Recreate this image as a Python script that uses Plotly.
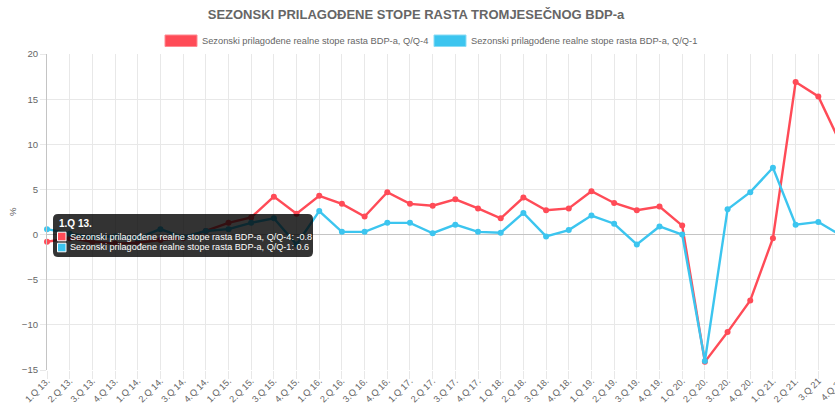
import plotly.graph_objects as go

quarters = ["1.Q 13.", "2.Q 13.", "3.Q 13.", "4.Q 13.",
            "1.Q 14.", "2.Q 14.", "3.Q 14.", "4.Q 14.",
            "1.Q 15.", "2.Q 15.", "3.Q 15.", "4.Q 15.",
            "1.Q 16.", "2.Q 16.", "3.Q 16.", "4.Q 16.",
            "1.Q 17.", "2.Q 17.", "3.Q 17.", "4.Q 17.",
            "1.Q 18.", "2.Q 18.", "3.Q 18.", "4.Q 18.",
            "1.Q 19.", "2.Q 19.", "3.Q 19.", "4.Q 19.",
            "1.Q 20.", "2.Q 20.", "3.Q 20.", "4.Q 20.",
            "1.Q 21.", "2.Q 21.", "3.Q 21", "4.Q 21"]

yoy_q4 = [-0.8, -0.4, -0.8, -1.0, -0.9, -0.6, -0.4, 0.4, 1.3, 1.9, 4.2, 2.3,
          4.3, 3.4, 2.0, 4.7, 3.4, 3.2, 3.9, 2.9, 1.8, 4.1, 2.7, 2.9,
          4.8, 3.5, 2.7, 3.1, 1.0, -14.1, -10.8, -7.3, -0.4, 16.9, 15.3, 10.0]

qoq_q1 = [0.6, 0.1, -0.3, -0.2, -0.4, 0.6, -0.3, 0.4, 0.6, 1.3, 1.8, -1.1,
          2.6, 0.3, 0.3, 1.3, 1.3, 0.15, 1.1, 0.3, 0.2, 2.4, -0.2, 0.5,
          2.1, 1.2, -1.1, 0.9, 0.0, -14.0, 2.8, 4.7, 7.4, 1.1, 1.4, -0.1]

name_q4 = "Sezonski prilagođene realne stope rasta BDP-a, Q/Q-4"
name_q1 = "Sezonski prilagođene realne stope rasta BDP-a, Q/Q-1"
title_text = "SEZONSKI PRILAGOĐENE STOPE RASTA TROMJESEČNOG BDP-a"
y_ticks = [-15, -10, -5, 0, 5, 10, 15, 20]

RED = "#ff4b57"
BLUE = "#3cc5ef"
TXT = "#666666"
FONT = "Liberation Sans, Arial, sans-serif"

# the original canvas is a little wider than the 835px window and is cut off on the right
W, H = 850, 403
L, R, T, B = 47, 841, 54, 370


def px(x):
    return (x - L) / (R - L)


def py(y):
    return (B - y) / (B - T)


fig = go.Figure()
fig.add_trace(go.Scatter(x=quarters, y=yoy_q4, mode="lines+markers", name=name_q4,
                         line=dict(color=RED, width=2.4), marker=dict(color=RED, size=6),
                         cliponaxis=False, showlegend=False))
fig.add_trace(go.Scatter(x=quarters, y=qoq_q1, mode="lines+markers", name=name_q1,
                         line=dict(color=BLUE, width=2.4), marker=dict(color=BLUE, size=6),
                         cliponaxis=False, showlegend=False))

shapes = []
annotations = []

# legend (drawn manually as boxes like the original)
legend_items = [(165, RED, "#ff8a92", name_q4), (434, BLUE, "#8adcf5", name_q1)]
for x0, fill, edge, label in legend_items:
    shapes.append(dict(type="rect", xref="paper", yref="paper",
                       x0=px(x0), x1=px(x0 + 32), y0=py(46.5), y1=py(35),
                       fillcolor=fill, line=dict(color=edge, width=1)))
    annotations.append(dict(xref="paper", yref="paper", x=px(x0 + 35), y=py(41),
                            xanchor="left", yanchor="middle", showarrow=False,
                            text=label, font=dict(family=FONT, size=9.3, color=TXT)))

# tooltip at the first point
tx0, tx1, ty0, ty1, rad = 53, 313, 214, 257, 5
rx, ry = rad / (R - L), rad / (B - T)
X0, X1, Y0, Y1 = px(tx0), px(tx1), py(ty1), py(ty0)
path = (f"M {X0+rx},{Y0} L {X1-rx},{Y0} Q {X1},{Y0} {X1},{Y0+ry} "
        f"L {X1},{Y1-ry} Q {X1},{Y1} {X1-rx},{Y1} L {X0+rx},{Y1} "
        f"Q {X0},{Y1} {X0},{Y1-ry} L {X0},{Y0+ry} Q {X0},{Y0} {X0+rx},{Y0} Z")
shapes.append(dict(type="path", xref="paper", yref="paper", path=path,
                   fillcolor="rgba(0,0,0,0.8)", line=dict(width=0), layer="above"))
annotations.append(dict(xref="paper", yref="paper", x=px(57), y=py(223),
                        xanchor="left", yanchor="middle", showarrow=False,
                        text="<b>" + quarters[0] + "</b>",
                        font=dict(family=FONT, size=10, color="#ffffff")))
rows = [(236.5, RED, name_q4, yoy_q4[0]), (247.5, BLUE, name_q1, qoq_q1[0])]
for yc, col, label, val in rows:
    shapes.append(dict(type="rect", xref="paper", yref="paper",
                       x0=px(57.5), x1=px(66), y0=py(yc + 4.3), y1=py(yc - 4.3),
                       fillcolor=col, line=dict(color="#ffffff", width=1), layer="above"))
    annotations.append(dict(xref="paper", yref="paper", x=px(67.5), y=py(yc),
                            xanchor="left", yanchor="middle", showarrow=False,
                            text=f"{label}: {val}",
                            font=dict(family=FONT, size=9.1, color="#ffffff")))

# y axis title
annotations.append(dict(xref="paper", yref="paper", x=px(12), y=py(212),
                        xanchor="center", yanchor="middle", showarrow=False,
                        text="%", textangle=-90, font=dict(family=FONT, size=9.6, color=TXT)))

fig.update_layout(
    width=W, height=H,
    margin=dict(l=L, r=W - R, t=T, b=H - B, autoexpand=False),
    paper_bgcolor="white", plot_bgcolor="white",
    font=dict(family=FONT, color=TXT),
    title=dict(text="<b>" + title_text + "</b>", x=416 / W, xref="container", xanchor="center",
               y=1 - 14 / H, yref="container", yanchor="middle",
               font=dict(family=FONT, size=13, color=TXT)),
    shapes=shapes, annotations=annotations,
    showlegend=False,
    hovermode=False,
)
fig.update_xaxes(type="category", categoryorder="array", categoryarray=quarters,
                 range=[0, len(quarters) - 1], tickangle=-45, automargin=False,
                 showgrid=True, gridcolor="#e8e8e8", gridwidth=1,
                 ticks="outside", ticklen=8, tickcolor="#e8e8e8",
                 ticklabelstandoff=-7,
                 showline=False, zeroline=False,
                 tickfont=dict(family=FONT, size=9.2, color=TXT))
fig.update_yaxes(range=[-15, 20], tickvals=y_ticks, automargin=False,
                 showgrid=True, gridcolor="#e8e8e8", gridwidth=1,
                 zeroline=True, zerolinecolor="#c4c4c4", zerolinewidth=1,
                 showline=True, linecolor="#c4c4c4", linewidth=1,
                 ticks="outside", ticklen=6, tickcolor="#e8e8e8",
                 tickfont=dict(family=FONT, size=9.6, color=TXT))

fig.write_html("out.html", config={"displayModeBar": False, "staticPlot": True},
               post_script="document.body.style.margin='0px';document.body.style.overflow='hidden';")
